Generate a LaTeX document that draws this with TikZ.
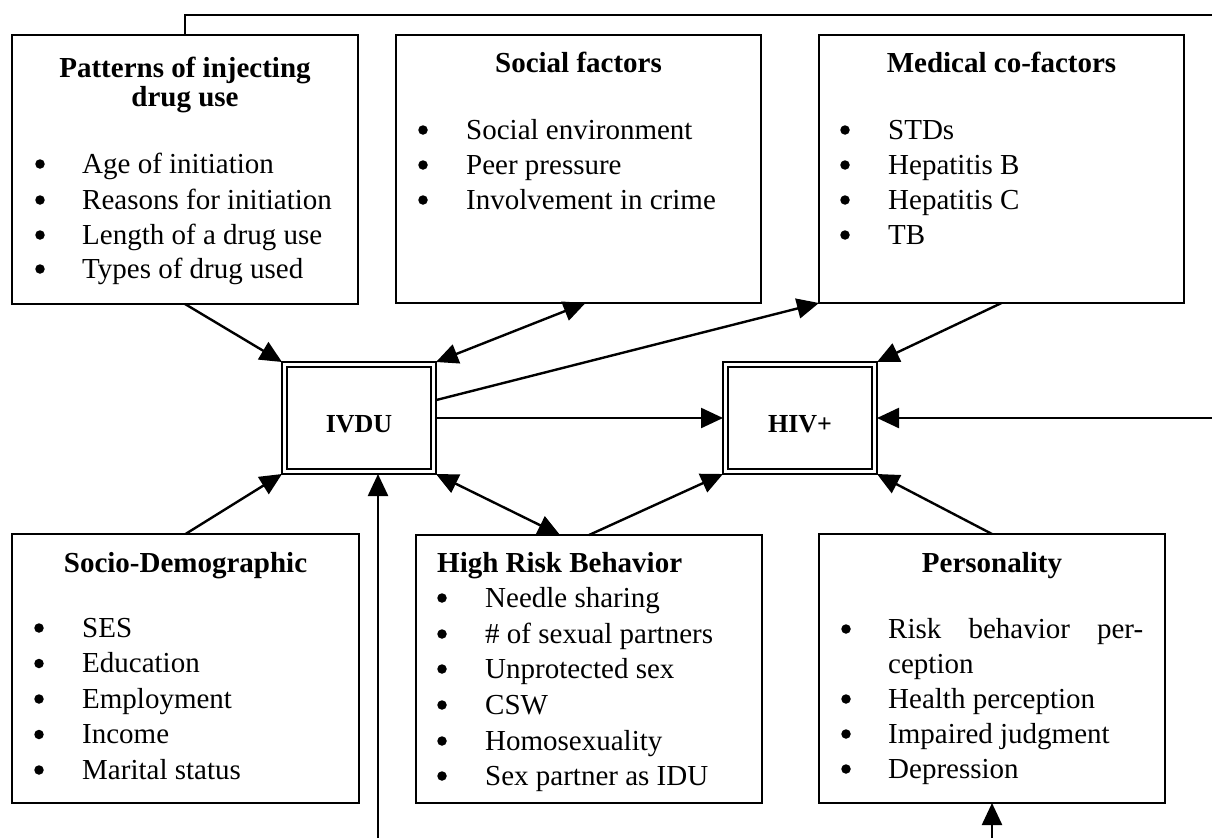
\documentclass[tikz,border=0pt]{standalone}
\usepackage{fontspec}
\setmainfont{Liberation Serif}
\usetikzlibrary{arrows.meta,calc}
\tikzset{
  box/.style={draw, rectangle, line width=1.6pt, inner sep=0pt, outer sep=0pt, anchor=north west},
  conn/.style={line width=2.4pt},
  arr/.style={conn, -{Triangle[length=22pt,width=20pt]}},
  barr/.style={conn, {Triangle[length=22pt,width=20pt]}-{Triangle[length=22pt,width=20pt]}},
  ttl/.style={font=\fontsize{29}{34}\selectfont\bfseries, inner sep=0pt, anchor=base},
  ttlw/.style={font=\fontsize{29}{34}\selectfont\bfseries, inner sep=0pt, anchor=base west},
  txt/.style={font=\fontsize{29}{34}\selectfont, inner sep=0pt, anchor=base west},
  bul/.style={circle, fill=black, draw=none, minimum size=9.5pt, inner sep=0pt},
  core/.style={font=\fontsize{26}{30}\selectfont\bfseries, inner sep=0pt, anchor=base},
}
\newcommand\li[5]{\node[bul] (#1b) at (#2,#4-9) {}; \node[txt] (#1) at (#3,#4) {#5};}
\begin{document}
\begin{tikzpicture}[x=1pt,y=-1pt]
\useasboundingbox (0,0) rectangle (1212,838);
% boxes
\node[box, minimum width=346pt, minimum height=269pt] (pat) at (12,35) {};
\node[box, minimum width=365pt, minimum height=268pt] (soc) at (396,35) {};
\node[box, minimum width=365pt, minimum height=268pt] (med) at (819,35) {};
\node[box, minimum width=347pt, minimum height=269pt] (sd) at (12,534) {};
\node[box, minimum width=346pt, minimum height=268pt] (hrb) at (416,535) {};
\node[box, minimum width=346pt, minimum height=269pt] (pers) at (819,534) {};
\node[box, line width=1.8pt, minimum width=154pt, minimum height=112pt] (ivdu) at (282,362) {};
\node[box, line width=1.8pt, minimum width=154pt, minimum height=112pt] (hiv) at (723,362) {};
\draw[line width=2.2pt] ($(ivdu.north west)+(5,5)$) rectangle ($(ivdu.south east)+(-5,-5)$);
\draw[line width=2.2pt] ($(hiv.north west)+(5,5)$) rectangle ($(hiv.south east)+(-5,-5)$);
\node[core] (ivdut) at (359,432) {IVDU};
\node[core] (hivt) at (800,432) {HIV+};
% Patterns
\node[ttl] (pat1) at (185,77) {Patterns of injecting};
\node[ttl] (pat2) at (185,106) {drug use};
\li{pa}{40}{82}{173}{Age of initiation}
\li{pb}{40}{82}{209}{Reasons for initiation}
\li{pc}{40}{82}{244}{Length of a drug use}
\li{pd}{40}{82}{278}{Types of drug used}
% Social
\node[ttl] (soc1) at (578.5,72) {Social factors};
\li{sa}{423}{466}{139}{Social environment}
\li{sb}{423}{466}{174}{Peer pressure}
\li{sc}{423}{466}{209}{Involvement in crime}
% Medical
\node[ttl] (med1) at (1001.5,72) {Medical co-factors};
\li{ma}{845}{888}{139}{STDs}
\li{mb}{845}{888}{174}{Hepatitis B}
\li{mc}{845}{888}{209}{Hepatitis C}
\li{md}{845}{888}{244}{TB}
% Socio-Demographic
\node[ttl] (sd1) at (185.5,572) {Socio-Demographic};
\li{da}{39}{82}{637}{SES}
\li{db}{39}{82}{672.5}{Education}
\li{dc}{39}{82}{708}{Employment}
\li{dd}{39}{82}{743.5}{Income}
\li{de}{39}{82}{779}{Marital status}
% High Risk Behavior
\node[ttlw] (hrb1) at (437,572) {High Risk Behavior};
\li{ha}{442}{485}{607}{Needle sharing}
\li{hb}{442}{485}{643}{\# of sexual partners}
\li{hc}{442}{485}{678}{Unprotected sex}
\li{hd}{442}{485}{714}{CSW}
\li{he}{442}{485}{750}{Homosexuality}
\li{hf}{442}{485}{785}{Sex partner as IDU}
% Personality
\node[ttl] (pers1) at (992,572) {Personality};
\li{ra}{846}{888}{638}{\makebox[255pt][s]{Risk\hfill behavior\hfill per-}}
\node[txt] (ra2) at (888,673) {ception};
\li{rb}{846}{888}{708}{Health perception}
\li{rc}{846}{888}{743}{Impaired judgment}
\li{rd}{846}{888}{778}{Depression}
% free ends
\coordinate (T) at (1212,15);
\coordinate (R) at (1212,418);
\coordinate (B1) at (378,838);
\coordinate (B2) at (992,838);
% connectors
\draw[conn] (pat.north) |- (T);
\draw[arr] (pat.south) -- (ivdu.north west);
\draw[barr] ([xshift=7pt]soc.south) -- (ivdu.north east);
\draw[arr] ($(ivdu.north east)!0.34!(ivdu.south east)$) -- (med.south west);
\draw[arr] (med.south) -- (hiv.north east);
\draw[arr] (ivdu.east) -- (hiv.west);
\draw[arr] (R) -- (hiv.east);
\draw[arr] (sd.north) -- (ivdu.south west);
\draw[arr] (B1) -- (B1 |- ivdu.south);
\draw[barr] (ivdu.south east) -- ([xshift=-29pt]hrb.north);
\draw[arr] (hrb.north) -- (hiv.south west);
\draw[arr] (pers.north) -- (hiv.south east);
\draw[arr] (B2) -- (pers.south);
\end{tikzpicture}
\end{document}
